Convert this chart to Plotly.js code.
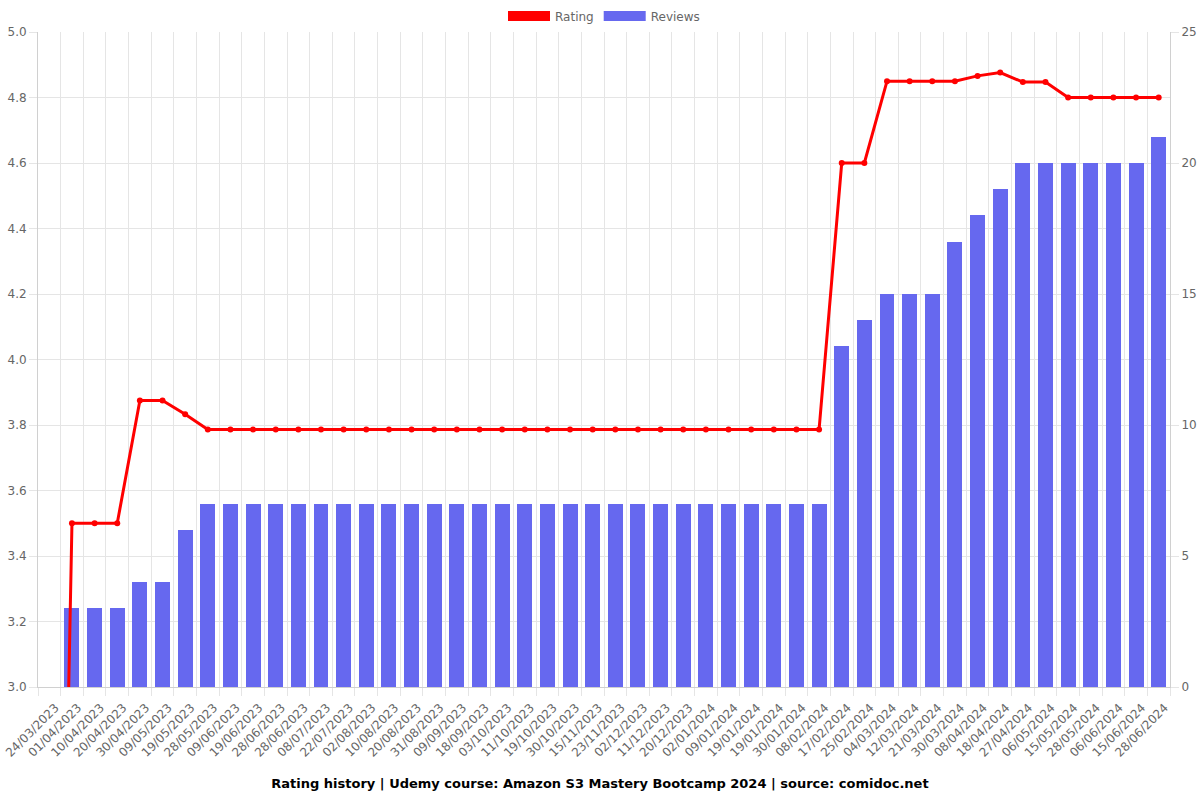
<!DOCTYPE html>
<html>
<head>
<meta charset="utf-8">
<script src="https://cdn.plot.ly/plotly-3.0.1.min.js"></script>
<style>html,body{margin:0;padding:0;background:#fff;}#chart{width:1200px;height:800px;}</style>
</head>
<body>
<div id="chart"></div>
<script>
const dateLabels = ["24/03/2023","01/04/2023","10/04/2023","20/04/2023","30/04/2023","09/05/2023","19/05/2023","28/05/2023","09/06/2023","19/06/2023","28/06/2023","28/06/2023","08/07/2023","22/07/2023","02/08/2023","10/08/2023","20/08/2023","31/08/2023","09/09/2023","18/09/2023","03/10/2023","11/10/2023","19/10/2023","30/10/2023","15/11/2023","23/11/2023","02/12/2023","11/12/2023","20/12/2023","02/01/2024","09/01/2024","19/01/2024","19/01/2024","30/01/2024","08/02/2024","17/02/2024","25/02/2024","04/03/2024","12/03/2024","21/03/2024","30/03/2024","08/04/2024","18/04/2024","27/04/2024","06/05/2024","15/05/2024","28/05/2024","06/06/2024","15/06/2024","28/06/2024"];

const ratingValues = [0,3.5,3.5,3.5,3.875,3.875,3.833,3.786,3.786,3.786,3.786,3.786,3.786,3.786,3.786,3.786,3.786,3.786,3.786,3.786,3.786,3.786,3.786,3.786,3.786,3.786,3.786,3.786,3.786,3.786,3.786,3.786,3.786,3.786,3.786,4.6,4.6,4.85,4.85,4.85,4.85,4.866,4.876,4.847,4.847,4.8,4.8,4.8,4.8,4.8];

const reviewValues = [0,3,3,3,4,4,6,7,7,7,7,7,7,7,7,7,7,7,7,7,7,7,7,7,7,7,7,7,7,7,7,7,7,7,7,13,14,15,15,15,17,18,19,20,20,20,20,20,20,21];

const seriesNames = ["Rating","Reviews"];
const titleText = "Rating history | Udemy course: Amazon S3 Mastery Bootcamp 2024 | source: comidoc.net";

const xIdx = dateLabels.map((_, i) => i);
const gridColor = "#e5e5e5";
const barColor = "#6668ef";
const redColor = "#ff0000";

const traces = [
  {
    type: "bar", x: xIdx, y: reviewValues, yaxis: "y", name: seriesNames[1],
    width: 0.66, showlegend: false,
    marker: {color: barColor, line: {width: 0}},
    hoverinfo: "y"
  },
  {
    type: "scatter", mode: "lines+markers", x: xIdx, y: ratingValues, yaxis: "y2", name: seriesNames[0],
    showlegend: false, cliponaxis: true,
    line: {color: redColor, width: 3},
    marker: {color: redColor, size: 6}
  },
  { type: "scatter", mode: "lines", x: [null], y: [null], name: seriesNames[0], line: {color: redColor, width: 14}, showlegend: true },
  { type: "scatter", mode: "lines", x: [null], y: [null], name: seriesNames[1], line: {color: barColor, width: 14}, showlegend: true }
];

const layout = {
  width: 1200, height: 800,
  margin: {l: 38, r: 30, t: 32, b: 113},
  paper_bgcolor: "#fff", plot_bgcolor: "#fff",
  font: {family: "DejaVu Sans", size: 12, color: "#666"},
  showlegend: true,
  legend: {orientation: "h", x: 0.5, xanchor: "center", y: 0.98, yref: "container", yanchor: "middle",
           font: {size: 12, color: "#666"}, traceorder: "normal", itemwidth: 42},
  title: {text: "<b>" + titleText + "</b>", x: 0.5, xanchor: "center", y: 0.021, yref: "container", yanchor: "middle",
          font: {family: "DejaVu Sans", size: 13, color: "#000"}},
  bargap: 0,
  xaxis: {
    range: [-0.5, 49.5], tickmode: "array", tickvals: xIdx, ticktext: dateLabels, tickangle: -45,
    ticklabeloverflow: "allow", ticklabelshift: 6,
    showgrid: false, zeroline: false, showline: true, linecolor: "#d0d0d0", linewidth: 1,
    ticks: "outside", ticklen: 8, tickcolor: "rgba(0,0,0,0)",
    tickfont: {size: 12, color: "#666"},
    minor: {tickmode: "linear", tick0: 0.5, dtick: 1, showgrid: true, gridcolor: gridColor, gridwidth: 1,
            ticks: "outside", ticklen: 8, tickcolor: gridColor}
  },
  yaxis: {
    range: [0, 25], dtick: 5, side: "right", showgrid: true, gridcolor: gridColor, zeroline: false,
    showline: true, linecolor: "#d0d0d0", ticks: "outside", ticklen: 8, tickcolor: gridColor,
    tickfont: {size: 12, color: "#666"}
  },
  yaxis2: {
    range: [3, 5], dtick: 0.2, tickformat: ".1f", side: "left", overlaying: "y",
    showgrid: true, gridcolor: gridColor, zeroline: false,
    showline: true, linecolor: "#d0d0d0", ticks: "outside", ticklen: 8, tickcolor: gridColor,
    tickfont: {size: 12, color: "#666"}
  }
};

Plotly.newPlot("chart", traces, layout, {displayModeBar: false, staticPlot: true});
</script>
</body>
</html>
